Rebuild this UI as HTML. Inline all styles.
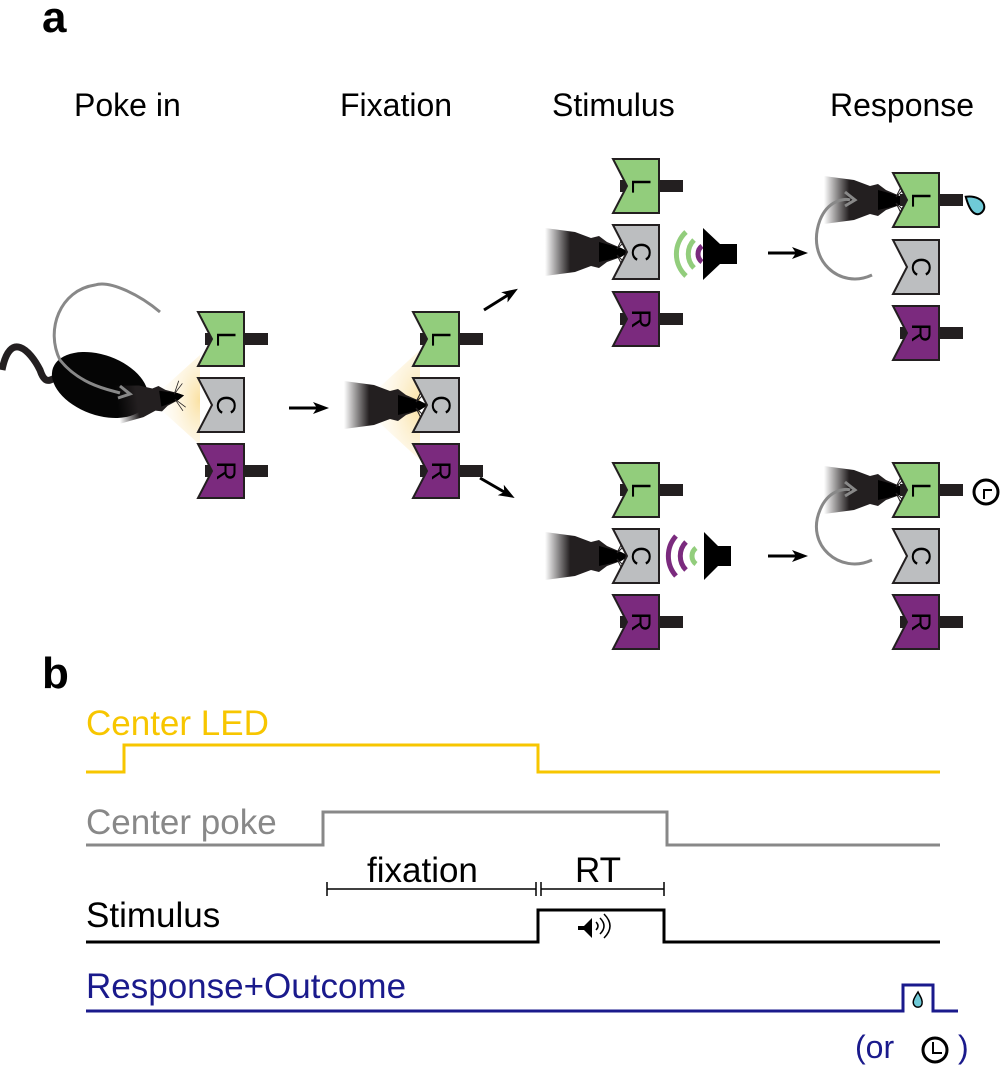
<!DOCTYPE html>
<html><head><meta charset="utf-8"><style>
html,body{margin:0;padding:0;background:#fff}
svg{display:block}
text{font-family:"Liberation Sans",Arial,sans-serif}
</style></head><body>
<svg width="1003" height="1067" viewBox="0 0 1003 1067" xmlns="http://www.w3.org/2000/svg">
<defs>
<g id="portL"><rect x="7" y="21" width="63" height="12" fill="#231f20"/><path d="M0,0H46V54H0L14,27Z" fill="#92cd7c" stroke="#231f20" stroke-width="2"/><text transform="translate(29,27) rotate(90)" font-size="27" text-anchor="middle" dy="10">L</text></g>
<g id="portC"><path d="M0,0H46V54H0L14,27Z" fill="#bcbec0" stroke="#231f20" stroke-width="2"/><text transform="translate(29,27) rotate(90)" font-size="27" text-anchor="middle" dy="10">C</text></g>
<g id="portR"><rect x="7" y="21" width="63" height="12" fill="#231f20"/><path d="M0,0H46V54H0L14,27Z" fill="#7b2a7e" stroke="#231f20" stroke-width="2"/><text transform="translate(29,27) rotate(90)" font-size="27" text-anchor="middle" dy="10">R</text></g>
<linearGradient id="fade" x1="0" x2="1"><stop offset="0" stop-color="#231f20" stop-opacity="0"/><stop offset="0.3" stop-color="#231f20"/></linearGradient>
<radialGradient id="glow" cx="1" cy="0.5" r="1"><stop offset="0" stop-color="#f9d98a"/><stop offset="1" stop-color="#fff" stop-opacity="0"/></radialGradient>
<g id="head"><path d="M-60,-24 L-30,-20 L-14,-14 L-6,-16 L2,-10 L16,-4 L24,0 L16,5 L2,10 L-6,16 L-14,14 L-30,20 L-60,24Z" fill="url(#fade)"/><path d="M-6,-10 L16,-4 L24,0 L16,5 L-6,10Z" fill="#000"/><g stroke="#231f20" stroke-width="1"><path d="M12,-3 l8,-16 M12,-3 l12,-12 M12,3 l8,16 M12,3 l12,12"/></g></g>
<g id="arr"><path d="M0,0 H30" stroke="#000" stroke-width="3"/><path d="M40,0 L24,-6 L28,0 L24,6Z" fill="#000"/></g>
</defs>
<text x="42" y="32" font-size="44" font-weight="bold">a</text>
<text x="74" y="116" font-size="32">Poke in</text>
<text x="340" y="116" font-size="32">Fixation</text>
<text x="552" y="116" font-size="32">Stimulus</text>
<text x="830" y="116" font-size="32">Response</text>

<!-- panel1 -->
<path d="M150,400 L200,355 L200,445 Z" fill="url(#glow)" opacity="0.8"/>
<path d="M2,370 C10,330 30,350 40,370 C45,385 50,380 55,378" stroke="#231f20" stroke-width="7" fill="none"/>
<ellipse cx="100" cy="385" rx="50" ry="30" transform="rotate(20 100 385)" fill="#050505"/>
<use href="#head" transform="translate(165,398) rotate(-8) scale(0.8)"/>
<path d="M160,312 C140,295 110,280 95,285 C60,290 45,330 60,360 C80,385 110,390 120,393" stroke="#888" stroke-width="3" fill="none"/>
<path d="M120,386 L130,394 L118,398" stroke="#888" stroke-width="3" fill="none"/>
<use href="#portL" x="198" y="312"/><use href="#portC" x="198" y="378"/><use href="#portR" x="198" y="444"/>
<use href="#arr" transform="translate(289,408)"/>
<!-- panel2 -->
<path d="M360,405 L420,350 L420,460Z" fill="url(#glow)" opacity="0.8"/>
<use href="#head" transform="translate(404,405)"/>
<use href="#portL" x="413" y="312"/><use href="#portC" x="413" y="378"/><use href="#portR" x="413" y="444"/>
<use href="#arr" transform="translate(484,310) rotate(-32)"/>
<use href="#arr" transform="translate(480,478) rotate(30)"/>
<!-- panel3 top -->
<use href="#head" transform="translate(605,252)"/>
<use href="#portL" x="613" y="159"/><use href="#portC" x="613" y="225"/><use href="#portR" x="613" y="292"/>
<g fill="none" stroke-width="5"><path d="M686,232 A30,30 0 0 0 686,276" stroke="#92cd7c"/><path d="M694,240 A20,20 0 0 0 694,268" stroke="#92cd7c"/><path d="M702,246 A10,10 0 0 0 702,262" stroke="#7b2a7e"/></g>
<path d="M703,228 L720,244 H737 V264 H720 L703,280Z" fill="#000"/>
<use href="#arr" transform="translate(768,253)"/>
<!-- panel4 top -->
<use href="#head" transform="translate(884,200)"/>
<use href="#portL" x="893" y="173"/><use href="#portC" x="893" y="240"/><use href="#portR" x="893" y="306"/>
<path d="M872,275 C840,290 805,260 820,220 C828,200 845,198 850,200" stroke="#888" stroke-width="3" fill="none"/>
<path d="M845,192 L855,200 L845,206" stroke="#888" stroke-width="3" fill="none"/>
<path d="M978,192 C972,198 968,204 968,208 C968,214 976,216 980,212 C984,208 984,200 978,192Z" transform="rotate(-60 976 205)" fill="#6fcad7" stroke="#000" stroke-width="2"/>
<!-- panel3 bottom -->
<use href="#head" transform="translate(605,556)"/>
<use href="#portL" x="613" y="463"/><use href="#portC" x="613" y="529"/><use href="#portR" x="613" y="595"/>
<g fill="none" stroke-width="5"><path d="M676,536 A30,30 0 0 0 676,576" stroke="#7b2a7e"/><path d="M686,542 A20,20 0 0 0 686,570" stroke="#7b2a7e"/><path d="M696,548 A10,10 0 0 0 696,564" stroke="#92cd7c"/></g>
<path d="M704,532 L718,546 H731 V566 H718 L704,580Z" fill="#000"/>
<use href="#arr" transform="translate(768,556)"/>
<!-- panel4 bottom -->
<use href="#head" transform="translate(884,490)"/>
<use href="#portL" x="893" y="463"/><use href="#portC" x="893" y="529"/><use href="#portR" x="893" y="595"/>
<path d="M872,560 C840,575 805,545 820,510 C828,490 845,488 850,490" stroke="#888" stroke-width="3" fill="none"/>
<path d="M845,482 L855,490 L845,496" stroke="#888" stroke-width="3" fill="none"/>
<circle cx="986" cy="492" r="12" fill="none" stroke="#000" stroke-width="3"/><path d="M984,499 V490 H992" stroke="#000" stroke-width="2" fill="none"/>

<!-- b -->
<text x="42" y="688" font-size="44" font-weight="bold">b</text>
<text x="86" y="735" font-size="35" fill="#f7c600">Center LED</text>
<path d="M86,772 H124 V745 H538 V772 H940" stroke="#f7c600" stroke-width="3" fill="none"/>
<text x="86" y="834" font-size="35" fill="#888">Center poke</text>
<path d="M86,845 H323 V812 H667 V845 H940" stroke="#888" stroke-width="3" fill="none"/>
<path d="M327,889 H536 M327,882 V896 M536,882 V896 M541,882 V896 M541,889 H664 M664,882 V896" stroke="#000" stroke-width="1.5"/>
<text x="367" y="882" font-size="35">fixation</text>
<text x="575" y="882" font-size="35">RT</text>
<text x="86" y="927" font-size="35">Stimulus</text>
<path d="M86,942 H538 V910 H664 V942 H940" stroke="#000" stroke-width="3" fill="none"/>
<path d="M578,926 h6 l8,-8 v20 l-8,-8 h-6z" fill="#000"/><path d="M596,922 q4,4 0,8 M600,918 q8,8 0,16 M604,914 q12,12 0,24" stroke="#000" stroke-width="1.5" fill="none"/>
<text x="86" y="998" font-size="35" fill="#1a1a8c">Response+Outcome</text>
<path d="M86,1011 H903 V985 H933 V1011 H958" stroke="#1a1a8c" stroke-width="3" fill="none"/>
<path d="M918,992 C914,998 912,1002 914,1005 C916,1008 921,1008 922,1004 C923,1000 920,996 918,992Z" fill="#6fcad7" stroke="#000" stroke-width="1.5"/>
<text x="855" y="1058" font-size="32" fill="#1a1a8c">(or</text>
<circle cx="935" cy="1050" r="12" fill="none" stroke="#000" stroke-width="3"/><path d="M933,1042 V1053 H942" stroke="#000" stroke-width="2" fill="none"/>
<text x="958" y="1058" font-size="32" fill="#1a1a8c">)</text>
</svg>
</body></html>
